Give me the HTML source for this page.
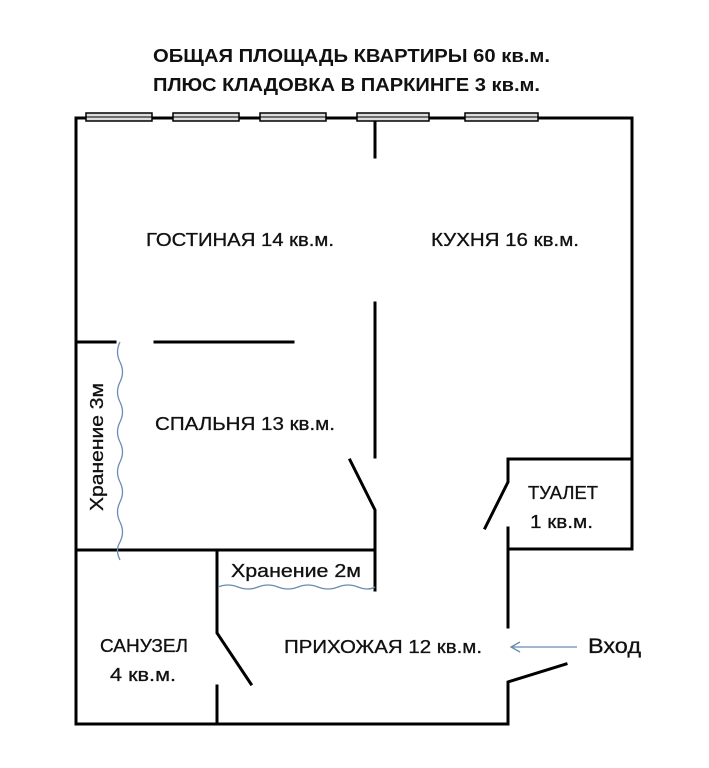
<!DOCTYPE html>
<html><head><meta charset="utf-8"><style>
html,body{margin:0;padding:0;background:#fff;}
svg{display:block;}
text{font-family:"Liberation Sans","DejaVu Sans",sans-serif;fill:#111;}
</style></head><body>
<svg width="709" height="768" viewBox="0 0 709 768" xmlns="http://www.w3.org/2000/svg">
<g font-weight="bold" font-size="18">
<text x="153" y="62" textLength="397" lengthAdjust="spacingAndGlyphs">ОБЩАЯ ПЛОЩАДЬ КВАРТИРЫ 60 кв.м.</text>
<text x="153" y="91" textLength="387" lengthAdjust="spacingAndGlyphs">ПЛЮС КЛАДОВКА В ПАРКИНГЕ 3 кв.м.</text>
</g>
<g stroke="#000" stroke-width="3" fill="none" stroke-linecap="square">
<path d="M76 724 V118 H632 V549"/>
<path d="M375 118 V157"/>
<path d="M375 303 V457"/>
<path d="M76 342 H115"/>
<path d="M155 342 H293"/>
<path d="M350 460 L375 510 V590"/>
<path d="M76 550 H375"/>
<path d="M217 550 V633 L251 684"/>
<path d="M217 686 V724"/>
<path d="M76 724 H508 V682 L566 664"/>
<path d="M508 627 V528"/>
<path d="M485 528 L508 482 V459 H632"/>
<path d="M508 549 H632"/>
</g>
<g stroke="#000" stroke-width="1.5" fill="#ddd">
<rect x="86" y="113" width="66" height="8"/>
<rect x="173" y="113" width="66" height="8"/>
<rect x="260" y="113" width="66" height="8"/>
<rect x="357" y="113" width="72" height="8"/>
<rect x="465" y="113" width="73" height="8"/>
</g>
<g stroke="#000" stroke-width="1"><path d="M86 117 H152 M173 117 H239 M260 117 H326 M357 117 H429 M465 117 H538"/></g>
<g stroke="#6a8cb0" stroke-width="1.3" fill="none">
<path d="M120 342 q-5 10 0 20 q5 10 0 20 q-5 10 0 20 q5 10 0 20 q-5 10 0 20 q5 10 0 20 q-5 10 0 20 q5 10 0 20 q-5 10 0 20 q5 10 0 20 q-5 8 0 18"/>
<path d="M218 587 q10 -4 20 0 q10 4 20 0 q10 -4 20 0 q10 4 20 0 q10 -4 20 0 q10 4 20 0 q10 -4 20 0 q10 4 17 0"/>
<path d="M577 647 H512 M520 642 L511 647 L520 652"/>
</g>
<g font-size="18" stroke="#111" stroke-width="0.3">
<text x="146" y="246" textLength="188" lengthAdjust="spacingAndGlyphs">ГОСТИНАЯ 14 кв.м.</text>
<text x="431" y="246" textLength="148" lengthAdjust="spacingAndGlyphs">КУХНЯ 16 кв.м.</text>
<text x="155" y="430" textLength="180" lengthAdjust="spacingAndGlyphs">СПАЛЬНЯ 13 кв.м.</text>
<text x="528" y="499" textLength="70" lengthAdjust="spacingAndGlyphs">ТУАЛЕТ</text>
<text x="530" y="528" textLength="63" lengthAdjust="spacingAndGlyphs">1 кв.м.</text>
<text x="100" y="652" textLength="88" lengthAdjust="spacingAndGlyphs">САНУЗЕЛ</text>
<text x="110" y="681" textLength="66" lengthAdjust="spacingAndGlyphs">4 кв.м.</text>
<text x="284" y="653" textLength="198" lengthAdjust="spacingAndGlyphs">ПРИХОЖАЯ 12 кв.м.</text>
<text x="231" y="577" textLength="130" lengthAdjust="spacingAndGlyphs">Хранение 2м</text>
<text transform="translate(103,511) rotate(-90)" x="0" y="0" textLength="128" lengthAdjust="spacingAndGlyphs">Хранение 3м</text>
<text x="588" y="653" font-size="21" textLength="53" lengthAdjust="spacingAndGlyphs">Вход</text>
</g>
</svg>
</body></html>
